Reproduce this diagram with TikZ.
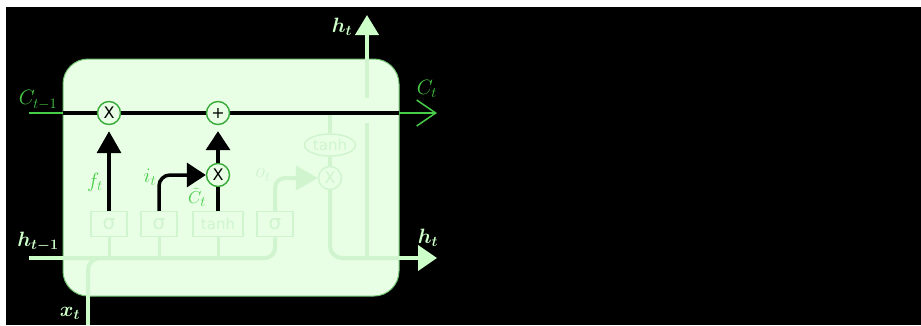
\documentclass[tikz,border=0pt]{standalone}
\usepackage{amsmath,amssymb}
\usepackage{fontspec}
\usepackage{xcolor}
\newfontfamily\gatefont{DejaVu Sans}
\usetikzlibrary{arrows.meta,shapes.geometric}

\definecolor{cellfill}{RGB}{232,255,230}
\definecolor{faint}{RGB}{208,244,206}
\definecolor{pale}{RGB}{205,255,200}
\definecolor{glow}{RGB}{72,205,72}
\definecolor{ring}{RGB}{55,170,55}

\tikzset{
  gatebox/.style={draw=faint,line width=1.5pt,minimum width=36pt,minimum height=25pt,
    inner sep=0pt,text=faint,font=\gatefont\fontsize{20}{20}\selectfont},
  opnode/.style={circle,draw=ring,fill=cellfill,line width=1.4pt,minimum size=23pt,
    inner sep=0pt,font=\gatefont\fontsize{16}{16}\selectfont},
  lbl/.style={text=glow,font=\fontsize{20}{20}\selectfont},
  wire/.style={faint,line width=4pt},
  bigtip/.style={-{Triangle[length=22pt,width=24pt]}}
}

\begin{document}
\begin{tikzpicture}[x=1pt,y=-1pt]
\useasboundingbox (0,0) rectangle (921,325);
\fill[black] (6,7) rectangle (921,325);
\node[draw=ring!70,line width=1pt,fill=cellfill,rounded corners=25pt,
  minimum width=336pt,minimum height=237pt] at (231,177.5) (cell){};

% gates
\node[gatebox] at (109,224) (sf){σ};
\node[gatebox] at (159,224) (si){σ};
\node[gatebox,minimum width=50pt,font=\gatefont\fontsize{15}{15}\selectfont] at (218,224) (tc){tanh};
\node[gatebox] at (275,224) (so){σ};
\node[opnode,draw=faint,text=faint] at (330,178) (mo){X};
\node[ellipse,draw=faint,line width=1.5pt,minimum width=51pt,minimum height=22pt,
  inner sep=0pt,text=faint,font=\gatefont\fontsize{15}{15}\selectfont] at (330,145) (th){tanh};

\coordinate (cin) at (29,113);
\coordinate (cl) at (63,113);
\coordinate (cr) at (399,113);
\coordinate (cout) at (437,113);
\coordinate (hin) at (29,258);
\coordinate (hl) at (63,258);
\coordinate (hr) at (399,258);
\coordinate (hout) at (437,258);
\coordinate (xin) at (88,325);
\coordinate (xl) at (88,296);
\coordinate (up1) at (367,123);
\coordinate (up2) at (367,98);
\coordinate (uptop) at (367,59);
\coordinate (upout) at (367,15);
\coordinate (otap) at (330,113);

% faint wires inside the cell
\draw[wire,rounded corners=10pt] (hl) -| (so.south);
\foreach \g in {sf,si,tc}{
\draw[wire,line width=3pt] (\g.south) -- (\g.south |- hl);
}
\draw[wire,rounded corners=12pt] (xl) |- (110,258);
\draw[wire,rounded corners=10pt,bigtip] (so.north) |- (mo.west);
\draw[wire] (otap) -- (th);
\draw[wire] (th) -- (mo);
\draw[wire,rounded corners=12pt] (mo) |- (hr);
\draw[wire] (367,258) -- (up1);
\draw[wire] (up2) -- (uptop);

% wires outside the cell
\draw[pale,line width=4pt] (hin) -- (hl);
\draw[pale,line width=4pt] (xin) -- (xl);
\draw[pale,line width=4pt,-{Triangle[length=19pt,width=25pt]}] (hr) -- (hout);
\draw[pale,line width=4pt,-{Triangle[length=20pt,width=23pt]}] (uptop) -- (upout);

% cell state
\draw[glow,line width=1.5pt] (cin) -- (cl);
\draw[black,line width=4pt] (cl) -- (cr);
\draw[glow,line width=1.5pt,-{Straight Barb[length=19pt,width=26pt,line width=1.5pt]}] (cr) -- (cout);

\node[opnode] at (109,113) (mf){X};
\node[opnode] at (218,113) (ad){+};
\node[opnode] at (218,175) (mi){X};

% black arrows
\draw[black,line width=3.5pt,bigtip,shorten >=6pt] (sf.north) -- (mf.south);
\draw[black,line width=3.5pt,rounded corners=11pt,-{Triangle[length=19pt,width=24pt]}] (si.north) |- (mi.west);
\draw[black,line width=3.5pt] (tc.north) -- (mi.south);
\draw[black,line width=3.5pt,-{Triangle[length=19pt,width=24pt]},shorten >=6pt] (mi.north) -- (ad.south);

% labels
\node[lbl] at (38,100) (lcp){$C_{t-1}$};
\node[lbl] at (427,89) (lc){$C_t$};
\node[lbl,text=pale] at (342,27) (lht){$\boldsymbol{h_t}$};
\node[lbl,text=pale] at (38,242) (lhp){$\boldsymbol{h_{t-1}}$};
\node[lbl,text=pale] at (428,238) (lh){$\boldsymbol{h_t}$};
\node[lbl,text=pale] at (70,313) (lx){$\boldsymbol{x_t}$};
\node[lbl] at (95,182) (lf){$f_t$};
\node[lbl] at (150,177) (li){$i_t$};
\node[lbl,font=\fontsize{19}{19}\selectfont] at (197,197) (lct){$\tilde{C}_t$};
\node[lbl,text=faint] at (263,175) (lo){$o_t$};
\end{tikzpicture}
\end{document}
